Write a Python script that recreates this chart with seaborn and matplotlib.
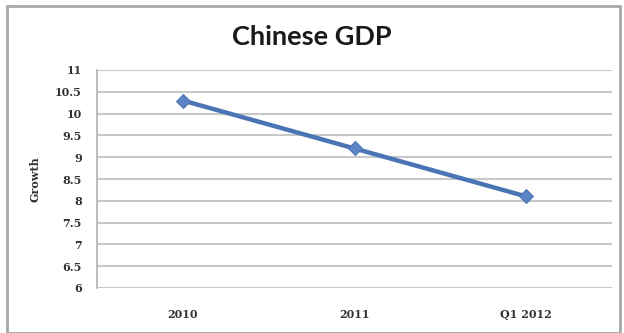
import matplotlib
matplotlib.use("Agg")
import matplotlib.pyplot as plt
from matplotlib.patches import Rectangle
import seaborn as sns
import pandas as pd

periods = ["2010", "2011", "Q1 2012"]
growth = [10.3, 9.2, 8.1]
y_ticks = [6, 6.5, 7, 7.5, 8, 8.5, 9, 9.5, 10, 10.5, 11]
y_tick_labels = ["6", "6.5", "7", "7.5", "8", "8.5", "9", "9.5", "10", "10.5", "11"]

df = pd.DataFrame({"period": periods, "growth": growth})

sns.set_theme(style="white")
fig = plt.figure(figsize=(6.24, 3.33), dpi=100)
ax = fig.add_axes([97 / 624, 1 - 288 / 333, (612 - 97) / 624, (288 - 70) / 333])

sns.lineplot(data=df, x="period", y="growth", ax=ax, sort=False,
             color="#4a74b4", linewidth=3.2, marker="D", markersize=7,
             markeredgecolor="#4a74b4", markerfacecolor="#5b84c4")

ax.set_xlim(-0.5, 2.5)
ax.set_ylim(6, 11)
ax.set_yticks(y_ticks)
ax.set_yticklabels(y_tick_labels)
ax.grid(axis="y", color="#c8c8c8", linewidth=1.5)
ax.set_axisbelow(True)
for side in ["top", "right", "bottom"]:
    ax.spines[side].set_visible(False)
ax.spines["left"].set_color("#b0b0b0")
ax.spines["left"].set_linewidth(1.2)
ax.tick_params(axis="both", length=0)
ax.tick_params(axis="y", pad=11)
ax.tick_params(axis="x", pad=15)

for lbl in ax.get_yticklabels() + ax.get_xticklabels():
    lbl.set_fontfamily("DejaVu Serif")
    lbl.set_fontweight("bold")
    lbl.set_fontsize(8)
    lbl.set_color("#333333")

ax.set_xlabel("")
ax.set_ylabel("Growth", fontfamily="DejaVu Serif", fontweight="bold",
              fontsize=8, color="#333333", labelpad=10)

fig.text(0.5, 1 - 37 / 333, "Chinese GDP", ha="center", va="center",
         fontsize=19.5, fontweight="bold", fontfamily="Lato", color="#1a1a1a")

# outer chart frame
fig.patches.append(Rectangle((7 / 624, 0.0), (620 - 7) / 624, 1 - 6 / 333,
                             transform=fig.transFigure, fill=False,
                             edgecolor="#a8a8a8", linewidth=2.0))

fig.savefig("out.png", dpi=100)
